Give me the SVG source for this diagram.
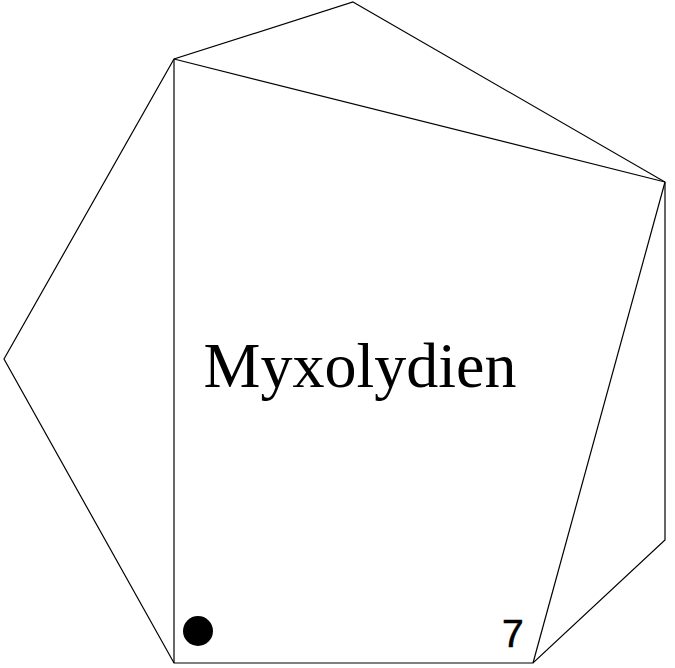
<svg xmlns="http://www.w3.org/2000/svg" width="675" height="668" viewBox="0 0 675 668">
<style>
.e{stroke:#000;stroke-width:1.2;fill:none}
.t{font-family:"Liberation Serif",serif;font-size:64px;fill:#000}
.n{font-family:"Liberation Sans",sans-serif;font-size:39px;fill:#000}
</style>
<rect width="675" height="668" fill="#fff"/>
<g id="connectors">
<polygon class="e" points="353,2 665,182 665,540 533,663 174,663 4,359 174,59"/>
<line class="e" x1="174" y1="59" x2="665" y2="182"/>
<line class="e" x1="174" y1="59" x2="174" y2="663"/>
<line class="e" x1="533" y1="663" x2="665" y2="182"/>
</g>
<g id="label"><text class="t" x="360" y="387" text-anchor="middle">Myxolydien</text></g>
<g id="dot"><circle cx="198" cy="631" r="15" fill="#000"/></g>
<g id="number"><text class="n" x="502" y="647" stroke="#000" stroke-width="0.6">7</text></g>
</svg>
